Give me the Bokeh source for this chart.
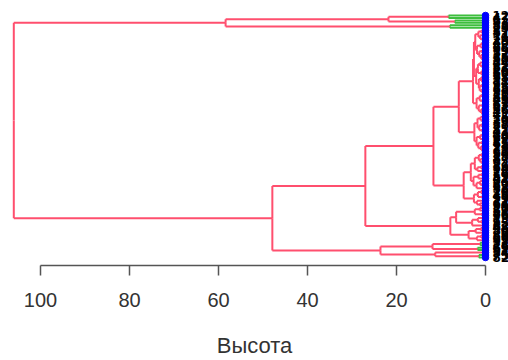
from bokeh.plotting import figure
from bokeh.models import Range1d, FixedTicker, ColumnDataSource
from bokeh.core.properties import value
from bokeh.embed import file_html
from bokeh.resources import INLINE

# ---------------- data: dendrogram (merge heights, leaf ids) ----------------
# node = [height, left, right] or [height, left, right, "g"] (green below node); leaf = observation id
TOP = [58.4, [21.8, [8.3, 12, 47, "g"], [6.9, 5, 93, "g"]], [8.0, 88, 23, "g"]]

P1 = [2.3, [1.6, [0.9, 3, 57], [1.2, 14, [0.6, 71, 29]]],
      [1.9, [1.1, [0.7, 40, 8], 66], [1.4, [0.8, 19, 52], [1.0, 77, [0.5, 35, 90]]]]]
P2 = [2.1, [1.7, [1.2, 44, [0.7, 2, 83]], [0.9, [0.5, 26, 60], 17]],
      [1.5, [1.0, 98, [0.6, 31, 74]], [1.3, [0.8, 9, 55], [0.9, 68, 38]]]]
Q = [2.0, [1.3, [0.8, 11, 85], [0.6, 49, 21]], [1.5, [0.5, 63, 27], [1.0, 96, [0.7, 4, 42]]]]
U1A1 = [2.8, [2.6, P1, P2], Q]
U1A2 = [2.5, [1.8, [1.1, 15, [0.6, 70, 33]], [1.4, [0.9, 58, 7], [0.7, 81, 43]]],
        [2.0, [1.2, [0.7, 46, 24], 92], [1.6, [0.8, 37, 65], [1.0, 13, [0.5, 79, 61]]]]]
B1 = [3.3, [2.4, [1.5, [0.9, 50, 18], [1.1, 87, [0.6, 6, 72]]], [1.8, [1.0, 39, 94], 28]],
      [2.7, [1.6, [0.8, 16, 59], 41], [2.0, [1.2, 84, [0.7, 30, 67]], 53]]]
B2 = [2.6, [1.7, [1.0, 10, 76], [0.6, 45, 99]], [1.9, 22, [1.2, 64, 34]]]
U2A = [6.6, [2.4, [1.3, 20, 51], [0.8, 86, 36]], [3.0, [1.7, 73, [0.9, 1, 95]], 62]]
U2B = [3.8, [2.2, [1.1, 48, 80], 25], [1.9, [1.0, 89, 56], 97]]
V1 = [11.9, [1.2, 32, 78, "g"], [1.8, 69, 91, "g"]]
V2 = [11.3, 54, [1.5, 75, 82, "g"]]

H_ROOT = 106.0
H_R2 = 47.9
H_U = 27.0
H_U1 = 11.7
H_U1A = 6.0
H_U1B = 4.9
H_U2 = 7.9
H_V = 23.6

X_TICKS = [0, 20, 40, 60, 80, 100]
X_LABEL = "Высота"

U1 = [H_U1, [H_U1A, U1A1, U1A2], [H_U1B, B1, B2]]
U = [H_U, U1, [H_U2, U2A, U2B]]
R2 = [H_R2, U, [H_V, V1, V2]]
ROOT = [H_ROOT, TOP, R2]

# ---------------- layout of the tree ----------------
RED = "#FF4F6E"
GREEN = "#3DBE3D"
BLUE = "#0000FF"

seg = dict(x0=[], y0=[], x1=[], y1=[], c=[])
leaf_y, leaf_lab = [], []
counter = [0]


def build(node, col):
    if not isinstance(node, list):
        y = counter[0]
        counter[0] += 1
        leaf_y.append(y)
        leaf_lab.append(str(node))
        return y, 0.0
    h = node[0]
    child_col = GREEN if (len(node) > 3 and node[3] == "g") else col
    ya, ha = build(node[1], child_col)
    yb, hb = build(node[2], child_col)
    y = (ya + yb) / 2.0
    for yc, hc in ((ya, ha), (yb, hb)):
        seg["x0"].append(h); seg["y0"].append(y); seg["x1"].append(h); seg["y1"].append(yc); seg["c"].append(child_col)
        seg["x0"].append(h); seg["y0"].append(yc); seg["x1"].append(hc); seg["y1"].append(yc); seg["c"].append(child_col)
    return y, h


build(ROOT, RED)
N = len(leaf_y)

# pixel geometry (figure starts at page 0,0)
FW, FH = 508, 360
FRAME_H = 266
X100_PX, X0_PX = 40.0, 485.0
px_per_unit = (X0_PX - X100_PX) / 100.0
x_left = 100 + X100_PX / px_per_unit
x_right = -(FW - X0_PX) / px_per_unit
LEAF_TOP_PX, LEAF_BOTTOM_PX = 15.0, 258.0
s = (LEAF_BOTTOM_PX - LEAF_TOP_PX) / (N - 1)
y_bottom = (FRAME_H - LEAF_TOP_PX) / s
y_top = -LEAF_TOP_PX / s

p = figure(width=FW, height=FH, output_backend="svg", toolbar_location=None,
           x_range=Range1d(x_left, x_right), y_range=Range1d(y_bottom, y_top),
           y_axis_location=None, min_border_left=0, min_border_right=0,
           min_border_top=0, min_border_bottom=FH - FRAME_H,
           outline_line_color=None, background_fill_color="white",
           border_fill_color="white")
p.grid.visible = False

p.segment(x0="x0", y0="y0", x1="x1", y1="y1", line_color="c", line_width=2,
          source=ColumnDataSource(seg))
p.scatter(x=[0.0] * N, y=leaf_y, size=6.5, marker="circle", fill_color=BLUE, line_color=BLUE)
p.text(x=[0.0] * N, y=leaf_y, text=leaf_lab, x_offset=7, text_align="left",
       text_baseline="middle", text_font=value("DejaVu Sans"), text_font_size="12px",
       text_font_style="bold", text_color="black")

ax = p.xaxis[0]
ax.ticker = FixedTicker(ticks=X_TICKS)
ax.bounds = (0, 100)
ax.major_tick_out = 10
ax.major_tick_in = 0
ax.minor_tick_line_color = None
ax.axis_line_width = 1.5
ax.axis_line_color = "#555555"
ax.major_tick_line_width = 1.5
ax.major_tick_line_color = "#555555"
ax.major_label_text_font = "Liberation Sans"
ax.major_label_text_font_size = "20px"
ax.major_label_text_color = "#333333"
ax.major_label_standoff = 17
ax.axis_label = X_LABEL
ax.axis_label_text_font = "Liberation Sans"
ax.axis_label_text_font_size = "22px"
ax.axis_label_text_font_style = "normal"
ax.axis_label_text_color = "#333333"
ax.axis_label_standoff = 23

open("out.html", "w").write(file_html(p, INLINE))
